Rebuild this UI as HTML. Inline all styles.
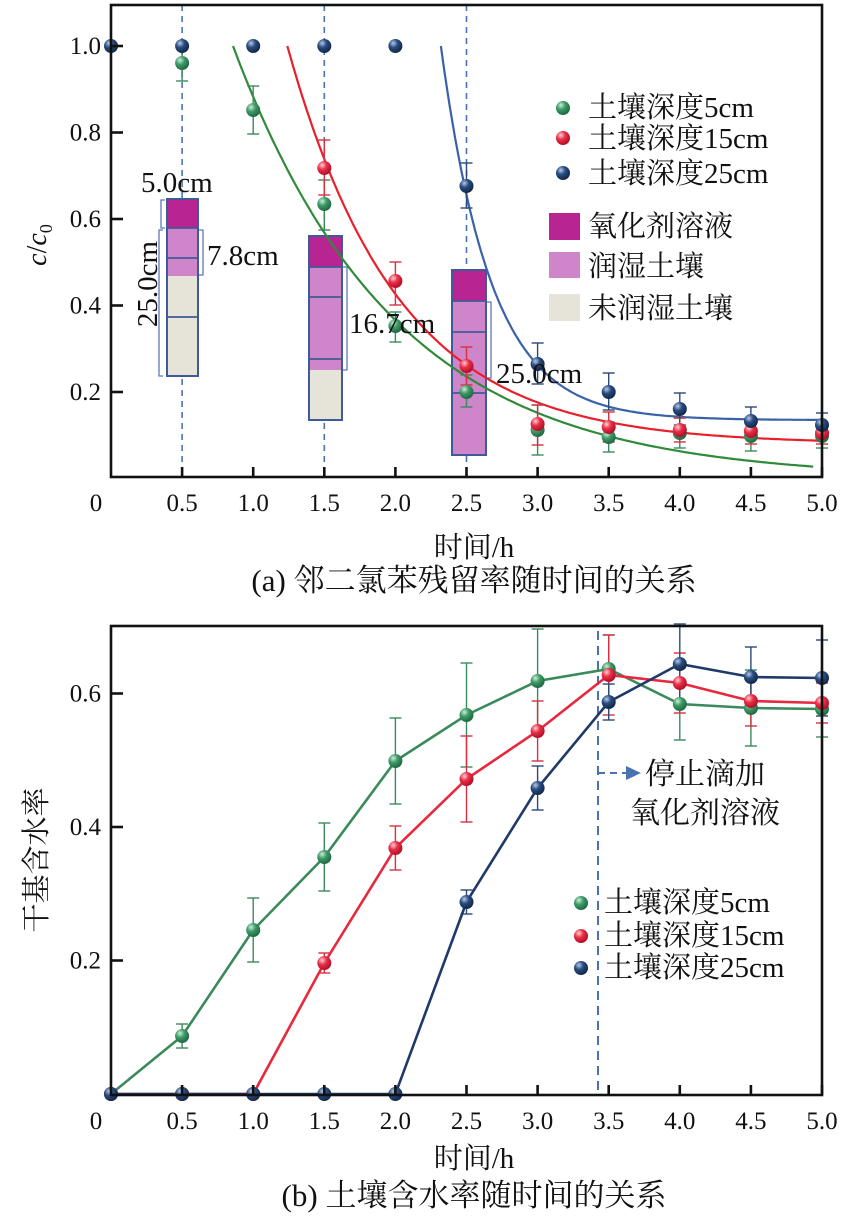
<!DOCTYPE html>
<html><head><meta charset="utf-8"><style>
html,body{margin:0;padding:0;background:#fff;}
svg{display:block;font-family:"Liberation Serif","Noto Serif CJK SC","Noto Sans CJK SC",serif;}
</style></head><body>
<svg id="s" width="853" height="1222" viewBox="0 0 853 1222" xmlns="http://www.w3.org/2000/svg">
<defs>
<radialGradient id="gG" cx="35%" cy="30%" r="70%"><stop offset="0" stop-color="#c9f0d8"/><stop offset="0.45" stop-color="#3f9a68"/><stop offset="1" stop-color="#1f6a42"/></radialGradient>
<radialGradient id="gR" cx="35%" cy="30%" r="70%"><stop offset="0" stop-color="#ffd0d6"/><stop offset="0.45" stop-color="#ea3048"/><stop offset="1" stop-color="#b01028"/></radialGradient>
<radialGradient id="gB" cx="35%" cy="30%" r="70%"><stop offset="0" stop-color="#b8c8e8"/><stop offset="0.45" stop-color="#284c80"/><stop offset="1" stop-color="#142848"/></radialGradient>
</defs>
<g id="g"></g>
<g font-size="27" fill="#111">
<text x="474" y="557" text-anchor="middle" font-size="29">时间/h</text>
<text x="474" y="591" text-anchor="middle" font-size="31">(a) 邻二氯苯残留率随时间的关系</text>
<text x="474" y="1168" text-anchor="middle" font-size="29">时间/h</text>
<text x="474" y="1206" text-anchor="middle" font-size="31">(b) 土壤含水率随时间的关系</text>
<text transform="translate(46,245) rotate(-90)" text-anchor="middle" font-size="28"><tspan font-style="italic">c</tspan>/<tspan font-style="italic">c</tspan><tspan font-size="18" dy="6">0</tspan></text>
<text transform="translate(46,860) rotate(-90)" text-anchor="middle" font-size="29">干基含水率</text>
<g font-size="29">
<text x="588" y="117">土壤深度5cm</text>
<text x="588" y="148">土壤深度15cm</text>
<text x="588" y="183">土壤深度25cm</text>
<text x="588" y="236">氧化剂溶液</text>
<text x="588" y="276">润湿土壤</text>
<text x="588" y="318">未润湿土壤</text>
<text x="604" y="912">土壤深度5cm</text>
<text x="604" y="945">土壤深度15cm</text>
<text x="604" y="977">土壤深度25cm</text>
<text x="645" y="784" font-size="30">停止滴加</text>
<text x="630" y="823" font-size="30">氧化剂溶液</text>
<text x="141" y="192">5.0cm</text>
<text x="207" y="265">7.8cm</text>
<text x="349" y="333">16.7cm</text>
<text x="496" y="383">25.0cm</text>
<text transform="translate(157,284) rotate(-90)" text-anchor="middle">25.0cm</text>
</g>
</g>
</svg>
<script>
var g=document.getElementById('g'),h='';
function X(t){return 111+142.2*t;}
function Ya(v){return 478.5-432.5*v;}
function Yb(v){return 1094-667.5*v;}
function add(s){h+=s;}
add('<rect x="549" y="213" width="31" height="27" fill="#b82592"/>');
add('<rect x="549" y="252" width="31" height="26" fill="#cf85c9"/>');
add('<rect x="549" y="294" width="31" height="27" fill="#e6e4d8"/>');
[0.5,1.5,2.5].forEach(function(t){add('<line x1="'+X(t)+'" y1="5" x2="'+X(t)+'" y2="477" stroke="#4a72b0" stroke-width="1.6" stroke-dasharray="6,5"/>');});
function col(x1,x2,top,dk,lt,bot,lines){
 add('<rect x="'+x1+'" y="'+top+'" width="'+(x2-x1)+'" height="'+(dk-top)+'" fill="#b82592"/>');
 add('<rect x="'+x1+'" y="'+dk+'" width="'+(x2-x1)+'" height="'+(lt-dk)+'" fill="#cf85c9"/>');
 if(bot>lt)add('<rect x="'+x1+'" y="'+lt+'" width="'+(x2-x1)+'" height="'+(bot-lt)+'" fill="#e6e4d8"/>');
 lines.concat([dk]).forEach(function(y){add('<line x1="'+x1+'" y1="'+y+'" x2="'+x2+'" y2="'+y+'" stroke="#3f5a98" stroke-width="1.8"/>');});
 add('<rect x="'+x1+'" y="'+top+'" width="'+(x2-x1)+'" height="'+(Math.max(bot,lt)-top)+'" fill="none" stroke="#3f5a98" stroke-width="2"/>');
}
col(167,198,199,228,276,376,[258,317]);
col(309,342,236,267,370,420,[297,359]);
col(452,486,270,301,455,455,[332,393]);
function br(x,y1,y2,d){add('<path d="M'+(x+d)+' '+y1+' H'+x+' V'+y2+' H'+(x+d)+'" fill="none" stroke="#5a7ab8" stroke-width="1.3"/>');}
br(161,200,228,4);br(159,230,376,4);br(203,230,275,-4);br(347,267,370,-4);br(491,302,378,-4);
function curve(f,t0,t1,c){var p=[];for(var t=t0;t<=t1+1e-9;t+=0.02)p.push(X(t).toFixed(1)+','+Ya(f(t)).toFixed(1));add('<polyline points="'+p.join(' ')+'" fill="none" stroke="'+c+'" stroke-width="2.2"/>');}
curve(function(t){return Math.exp(-0.88*(t-0.858));},0.858,4.95,'#2f8a3a');
curve(function(t){return 0.08+0.92*Math.exp(-1.285*(t-1.24));},1.24,5.0,'#e8202c');
curve(function(t){return 0.135+0.865*Math.exp(-2.82*(t-2.32));},2.32,5.0,'#3a62a8');
function eb(x,y,e1,e2,c){add('<line x1="'+x+'" y1="'+e1+'" x2="'+x+'" y2="'+e2+'" stroke="'+c+'" stroke-width="1.4"/><line x1="'+(x-6)+'" y1="'+e1+'" x2="'+(x+6)+'" y2="'+e1+'" stroke="'+c+'" stroke-width="1.4"/><line x1="'+(x-6)+'" y1="'+e2+'" x2="'+(x+6)+'" y2="'+e2+'" stroke="'+c+'" stroke-width="1.4"/>');}
function m(x,y,id){add('<circle cx="'+x+'" cy="'+y+'" r="7" fill="url(#'+id+')"/>');}
var ts=[0.5,1,1.5,2,2.5,3,3.5,4,4.5,5];
var aG=[[0.5,63,47,81],[1,110,86,134],[1.5,204,180,230],[2,326,312,342],[2.5,392,375,407],[3,430,405,455],[3.5,437,422,452],[4,433,418,448],[4.5,436,421,451],[5,436,424,448]];
var aR=[[1.5,168,140,195],[2,281,262,305],[2.5,366,347,385],[3,424,405,445],[3.5,427,412,442],[4,430,418,442],[4.5,431,418,444],[5,433,422,444]];
var aB=[[0,46],[0.5,46],[1,46],[1.5,46],[2,46],[2.5,186,163,208],[3,364,343,384],[3.5,392,373,410],[4,409,393,425],[4.5,421,407,436],[5,425,413,437]];
[[aG,'#3a8a5c','gG'],[aR,'#d83040','gR'],[aB,'#2c4a78','gB']].forEach(function(s){s[0].forEach(function(d){if(d.length>2)eb(X(d[0]),d[1],d[2],d[3],s[1]);});});
[[aG,'gG'],[aR,'gR'],[aB,'gB']].forEach(function(s){s[0].forEach(function(d){m(X(d[0]),d[1],s[1]);});});
m(563,108,'gG');m(563,138,'gR');m(563,173,'gB');
add('<line x1="598" y1="631" x2="598" y2="1094" stroke="#4a72b0" stroke-width="2" stroke-dasharray="9,6"/>');
add('<line x1="598" y1="773" x2="628" y2="773" stroke="#4a72b0" stroke-width="2" stroke-dasharray="7,5"/><path d="M626 766 L641 773 L626 780 Z" fill="#4a72b0"/>');
var bG=[[0,1094,0],[0.5,1036,12],[1,930,32],[1.5,857,34],[2,761,43],[2.5,715,52],[3,681,52],[3.5,669,34],[4,704,36],[4.5,708,38],[5,709,28]];
var bR=[[0,1094,0],[0.5,1094,0],[1,1094,0],[1.5,963,10],[2,848,22],[2.5,779,43],[3,731,30],[3.5,675,40],[4,683,30],[4.5,701,25],[5,703,20]];
var bB=[[0,1094,0],[0.5,1094,0],[1,1094,0],[1.5,1094,0],[2,1094,0],[2.5,902,12],[3,788,22],[3.5,702,18],[4,664,40],[4.5,677,30],[5,678,38]];
[[bG,'#3a8a5c','gG','#3a8a5c'],[bR,'#d83040','gR','#e8283c'],[bB,'#2c4a78','gB','#1f3a6a']].forEach(function(s){
 s[0].forEach(function(d){if(d[2])eb(X(d[0]),d[1],d[1]-d[2],d[1]+d[2],s[1]);});
 add('<polyline points="'+s[0].map(function(d){return X(d[0])+','+d[1];}).join(' ')+'" fill="none" stroke="'+s[3]+'" stroke-width="2.6"/>');
});
[[bG,'gG'],[bR,'gR'],[bB,'gB']].forEach(function(s){s[0].forEach(function(d){m(X(d[0]),d[1],s[1]);});});
m(581,903,'gG');m(581,936,'gR');m(581,968,'gB');
function axes(top,bot,Y,yt){
 add('<rect x="111" y="'+top+'" width="711" height="'+(bot-top)+'" fill="none" stroke="#111" stroke-width="2.6"/>');
 ts.forEach(function(t){add('<line x1="'+X(t)+'" y1="'+bot+'" x2="'+X(t)+'" y2="'+(bot-10)+'" stroke="#111" stroke-width="2.6"/>');
  add('<text x="'+X(t)+'" y="'+(bot+34)+'" text-anchor="middle" font-size="25" fill="#111">'+t.toFixed(1)+'</text>');});
 add('<text x="96" y="'+(bot+34)+'" text-anchor="middle" font-size="25" fill="#111">0</text>');
 yt.forEach(function(v){var y=Y(v);add('<line x1="111" y1="'+y+'" x2="123" y2="'+y+'" stroke="#111" stroke-width="2.6"/><text x="101" y="'+(y+8)+'" text-anchor="end" font-size="25" fill="#111">'+v.toFixed(1)+'</text>');});
}
axes(5,477,Ya,[0.2,0.4,0.6,0.8,1.0]);
axes(626,1095,Yb,[0.2,0.4,0.6]);
g.innerHTML=h;
</script>
</body></html>
